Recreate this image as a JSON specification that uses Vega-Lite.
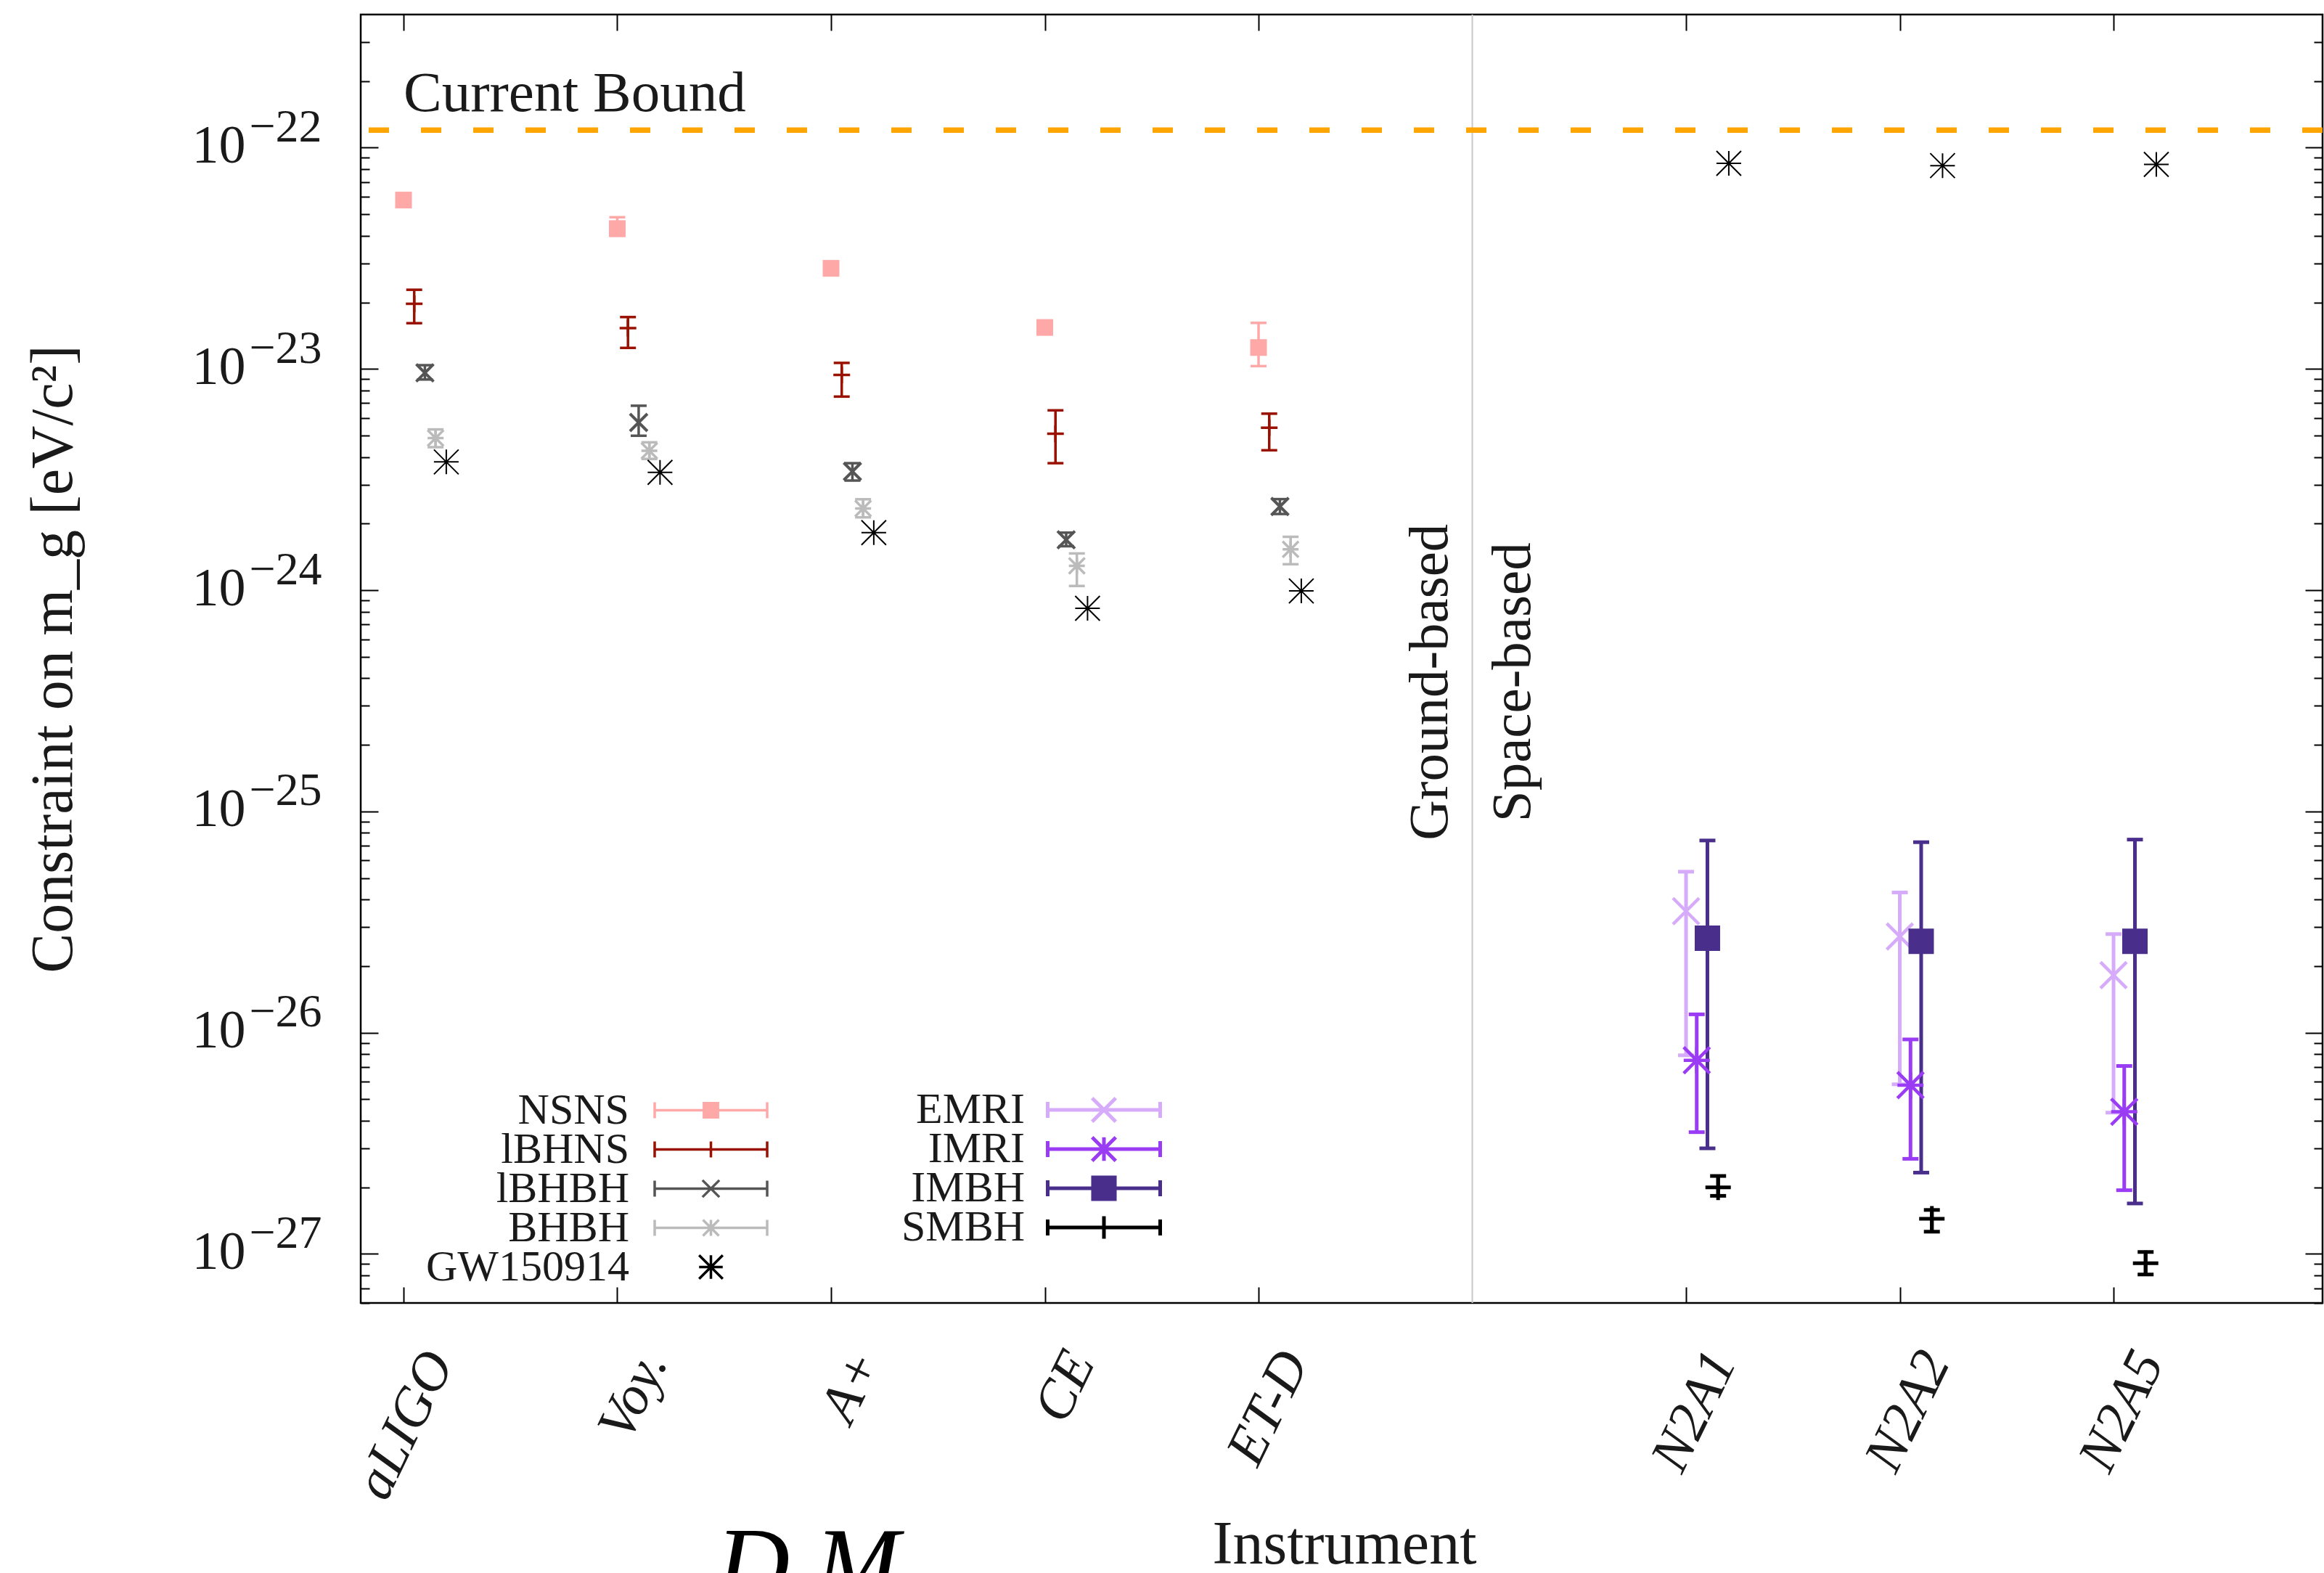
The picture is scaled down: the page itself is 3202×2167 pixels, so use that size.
{
  "$schema": "https://vega.github.io/schema/vega-lite/v6.json",
  "width": 2703,
  "height": 1775,
  "autosize": {"type": "none"},
  "padding": {"left": 497, "top": 20, "right": 2, "bottom": 372},
  "background": "white",
  "title": {"text": "D M", "orient": "bottom", "anchor": "start", "frame": "group", "dx": 490, "offset": -80, "baseline": "top", "fontSize": 140, "font": "Liberation Serif", "fontStyle": "italic", "fontWeight": "normal", "color": "#000000"},
  "config": {
    "view": {"stroke": "#000000", "strokeWidth": 2.5},
    "axis": {"grid": false, "domain": false, "tickColor": "#000000", "tickWidth": 2, "labelColor": "#1a1a1a", "titleColor": "#1a1a1a", "labelFont": "Liberation Serif", "titleFont": "Liberation Serif", "titleFontWeight": "normal"},
    "text": {"font": "Liberation Serif", "color": "#1a1a1a"}
  },
  "datasets": {
    "ground": [
      {"inst": "aLIGO", "src": "NSNS", "v": 5.8e-23},
      {"inst": "aLIGO", "src": "lBHNS", "v": 1.97e-23, "lo": 1.61e-23, "hi": 2.28e-23},
      {"inst": "aLIGO", "src": "lBHBH", "v": 9.6e-24, "lo": 8.96e-24, "hi": 1.04e-23},
      {"inst": "aLIGO", "src": "BHBH", "v": 4.87e-24, "lo": 4.43e-24, "hi": 5.33e-24},
      {"inst": "aLIGO", "src": "GW150914", "v": 3.8e-24},
      {"inst": "Voy.", "src": "NSNS", "v": 4.31e-23, "lo": 4.0e-23, "hi": 4.85e-23},
      {"inst": "Voy.", "src": "lBHNS", "v": 1.53e-23, "lo": 1.245e-23, "hi": 1.716e-23},
      {"inst": "Voy.", "src": "lBHBH", "v": 5.73e-24, "lo": 4.99e-24, "hi": 6.82e-24},
      {"inst": "Voy.", "src": "BHBH", "v": 4.27e-24, "lo": 3.92e-24, "hi": 4.66e-24},
      {"inst": "Voy.", "src": "GW150914", "v": 3.41e-24},
      {"inst": "A+", "src": "NSNS", "v": 2.85e-23},
      {"inst": "A+", "src": "lBHNS", "v": 9.4e-24, "lo": 7.5e-24, "hi": 1.065e-23},
      {"inst": "A+", "src": "lBHBH", "v": 3.44e-24, "lo": 3.13e-24, "hi": 3.75e-24},
      {"inst": "A+", "src": "BHBH", "v": 2.34e-24, "lo": 2.135e-24, "hi": 2.576e-24},
      {"inst": "A+", "src": "GW150914", "v": 1.82e-24},
      {"inst": "CE", "src": "NSNS", "v": 1.54e-23},
      {"inst": "CE", "src": "lBHNS", "v": 5.1e-24, "lo": 3.75e-24, "hi": 6.5e-24},
      {"inst": "CE", "src": "lBHBH", "v": 1.69e-24, "lo": 1.58e-24, "hi": 1.82e-24},
      {"inst": "CE", "src": "BHBH", "v": 1.288e-24, "lo": 1.045e-24, "hi": 1.466e-24},
      {"inst": "CE", "src": "GW150914", "v": 8.28e-25},
      {"inst": "ET-D", "src": "NSNS", "v": 1.25e-23, "lo": 1.03e-23, "hi": 1.615e-23},
      {"inst": "ET-D", "src": "lBHNS", "v": 5.42e-24, "lo": 4.29e-24, "hi": 6.28e-24},
      {"inst": "ET-D", "src": "lBHBH", "v": 2.39e-24, "lo": 2.21e-24, "hi": 2.58e-24},
      {"inst": "ET-D", "src": "BHBH", "v": 1.53e-24, "lo": 1.31e-24, "hi": 1.743e-24},
      {"inst": "ET-D", "src": "GW150914", "v": 9.92e-25}
    ],
    "space": [
      {"inst": "N2A1", "src": "EMRI", "v": 3.54e-26, "lo": 7.9e-27, "hi": 5.34e-26},
      {"inst": "N2A1", "src": "IMRI", "v": 7.5e-27, "lo": 3.55e-27, "hi": 1.21e-26},
      {"inst": "N2A1", "src": "IMBH", "v": 2.67e-26, "lo": 3.0e-27, "hi": 7.39e-26},
      {"inst": "N2A1", "src": "SMBH", "v": 2.0e-27, "lo": 1.83e-27, "hi": 2.25e-27},
      {"inst": "N2A1", "src": "GW150914", "v": 8.5e-23},
      {"inst": "N2A2", "src": "EMRI", "v": 2.72e-26, "lo": 5.84e-27, "hi": 4.3e-26},
      {"inst": "N2A2", "src": "IMRI", "v": 5.79e-27, "lo": 2.69e-27, "hi": 9.32e-27},
      {"inst": "N2A2", "src": "IMBH", "v": 2.59e-26, "lo": 2.33e-27, "hi": 7.26e-26},
      {"inst": "N2A2", "src": "SMBH", "v": 1.44e-27, "lo": 1.26e-27, "hi": 1.58e-27},
      {"inst": "N2A2", "src": "GW150914", "v": 8.3e-23},
      {"inst": "N2A5", "src": "EMRI", "v": 1.82e-26, "lo": 4.35e-27, "hi": 2.79e-26},
      {"inst": "N2A5", "src": "IMRI", "v": 4.39e-27, "lo": 1.94e-27, "hi": 7.07e-27},
      {"inst": "N2A5", "src": "IMBH", "v": 2.59e-26, "lo": 1.69e-27, "hi": 7.46e-26},
      {"inst": "N2A5", "src": "SMBH", "v": 9.07e-28, "lo": 8.07e-28, "hi": 1.02e-27},
      {"inst": "N2A5", "src": "GW150914", "v": 8.4e-23}
    ]
  },
  "layer": [
    {
      "data": {"values": [{}]},
      "mark": {"type": "rule", "color": "#c8c8c8", "strokeWidth": 2},
      "encoding": {
        "x": {"datum": "gap", "type": "nominal", "axis": null, "scale": {"type": "point", "domain": ["aLIGO", "Voy.", "A+", "CE", "ET-D", "gap", "N2A1", "N2A2", "N2A5"], "padding": 0.589, "align": 0.17}}
      }
    },
    {
      "data": {"values": [{}]},
      "mark": {"type": "rule", "color": "#FFA500", "strokeWidth": 7.5, "strokeDash": [28, 44]},
      "encoding": {
        "y": {"datum": 1.2e-22, "type": "quantitative", "axis": null, "scale": {"type": "log", "domain": [6e-28, 4e-22], "nice": false}}
      }
    },
    {
      "data": {"values": [{}]},
      "mark": {"type": "text", "text": "Current Bound", "align": "left", "baseline": "alphabetic", "dy": -26, "fontSize": 79},
      "encoding": {
        "x": {"datum": "aLIGO", "type": "nominal", "axis": null, "scale": {"type": "point", "domain": ["aLIGO", "Voy.", "A+", "CE", "ET-D", "gap", "N2A1", "N2A2", "N2A5"], "padding": 0.589, "align": 0.17}},
        "y": {"datum": 1.2e-22, "type": "quantitative", "axis": null, "scale": {"type": "log", "domain": [6e-28, 4e-22], "nice": false}}
      }
    },
    {
      "data": {"values": [{}]},
      "mark": {"type": "text", "text": "Ground-based", "angle": 270, "align": "center", "baseline": "alphabetic", "dy": -35, "fontSize": 77},
      "encoding": {
        "x": {"datum": "gap", "type": "nominal", "axis": null, "scale": {"type": "point", "domain": ["aLIGO", "Voy.", "A+", "CE", "ET-D", "gap", "N2A1", "N2A2", "N2A5"], "padding": 0.589, "align": 0.17}},
        "y": {"datum": 3.84e-25, "type": "quantitative", "axis": null, "scale": {"type": "log", "domain": [6e-28, 4e-22], "nice": false}}
      }
    },
    {
      "data": {"values": [{}]},
      "mark": {"type": "text", "text": "Space-based", "angle": 270, "align": "center", "baseline": "top", "dy": 18, "fontSize": 77},
      "encoding": {
        "x": {"datum": "gap", "type": "nominal", "axis": null, "scale": {"type": "point", "domain": ["aLIGO", "Voy.", "A+", "CE", "ET-D", "gap", "N2A1", "N2A2", "N2A5"], "padding": 0.589, "align": 0.17}},
        "y": {"datum": 3.84e-25, "type": "quantitative", "axis": null, "scale": {"type": "log", "domain": [6e-28, 4e-22], "nice": false}}
      }
    },
    {
      "data": {"name": "ground"},
      "transform": [{"filter": "isValid(datum.lo)"}],
      "mark": {"type": "rule", "strokeWidth": 3.5},
      "encoding": {
        "x": {"field": "inst", "type": "nominal", "axis": null, "scale": {"type": "point", "domain": ["aLIGO", "Voy.", "A+", "CE", "ET-D", "gap", "N2A1", "N2A2", "N2A5"], "padding": 0.589, "align": 0.17}},
        "xOffset": {"field": "src", "type": "nominal", "scale": {"type": "point", "domain": ["NSNS", "lBHNS", "lBHBH", "BHBH", "GW150914"], "range": [0, 58.9], "padding": 0}},
        "y": {"field": "lo", "type": "quantitative", "scale": {"type": "log", "domain": [6e-28, 4e-22], "nice": false},
          "axis": {"orient": "left", "values": [1e-27, 1e-26, 1e-25, 1e-24, 1e-23, 1e-22],
            "labelExpr": "'−' + (-round(log(datum.value)/LN10))",
            "ticks": false, "labelFontSize": 64, "labelPadding": 54, "labelOffset": -9, "labelBaseline": "alphabetic", "labelAlign": "right", "labelOverlap": false, "labelLimit": 0, "labelBound": false, "labelFlush": false, "title": null, "domain": false}},
        "y2": {"field": "hi"},
        "color": {"field": "src", "type": "nominal", "legend": null, "scale": {"domain": ["NSNS", "lBHNS", "lBHBH", "BHBH", "GW150914"], "range": ["#FFA8A8", "#991100", "#555555", "#BBBBBB", "#000000"]}}
      }
    },
    {
      "data": {"name": "ground"},
      "transform": [{"filter": "isValid(datum.lo)"}, {"fold": ["lo", "hi"], "as": ["end", "yv"]}],
      "mark": {"type": "tick", "orient": "horizontal", "size": 22, "thickness": 3.5, "opacity": 1},
      "encoding": {
        "x": {"field": "inst", "type": "nominal", "axis": null, "scale": {"type": "point", "domain": ["aLIGO", "Voy.", "A+", "CE", "ET-D", "gap", "N2A1", "N2A2", "N2A5"], "padding": 0.589, "align": 0.17}},
        "xOffset": {"field": "src", "type": "nominal", "scale": {"type": "point", "domain": ["NSNS", "lBHNS", "lBHBH", "BHBH", "GW150914"], "range": [0, 58.9], "padding": 0}},
        "y": {"field": "yv", "type": "quantitative", "axis": null, "scale": {"type": "log", "domain": [6e-28, 4e-22], "nice": false}},
        "color": {"field": "src", "type": "nominal", "legend": null, "scale": {"domain": ["NSNS", "lBHNS", "lBHBH", "BHBH", "GW150914"], "range": ["#FFA8A8", "#991100", "#555555", "#BBBBBB", "#000000"]}}
      }
    },
    {
      "data": {"name": "ground"},
      "mark": {"type": "point", "filled": true, "opacity": 1},
      "encoding": {
        "x": {"field": "inst", "type": "nominal", "scale": {"type": "point", "domain": ["aLIGO", "Voy.", "A+", "CE", "ET-D", "gap", "N2A1", "N2A2", "N2A5"], "padding": 0.589, "align": 0.17},
          "axis": {"orient": "bottom", "values": ["aLIGO", "Voy.", "A+", "CE", "ET-D", "N2A1", "N2A2", "N2A5"], "title": "Instrument", "titleFontSize": 84, "titleX": 1355, "titleY": 358, "titleBaseline": "alphabetic", "titleAlign": "center", "labelAngle": -64, "labelAlign": "right", "labelBaseline": "middle", "labelFontSize": 76, "labelFontStyle": "italic", "labelPadding": 93, "labelOffset": 49, "labelOverlap": false, "labelLimit": 0, "labelBound": false, "labelFlush": false, "tickSize": -22, "domain": false}},
        "xOffset": {"field": "src", "type": "nominal", "scale": {"type": "point", "domain": ["NSNS", "lBHNS", "lBHBH", "BHBH", "GW150914"], "range": [0, 58.9], "padding": 0}},
        "y": {"field": "v", "type": "quantitative", "scale": {"type": "log", "domain": [6e-28, 4e-22], "nice": false},
          "axis": {"orient": "left", "values": [6e-28, 7e-28, 8e-28, 9e-28, 1e-27, 2e-27, 3e-27, 4e-27, 5e-27, 6e-27, 7e-27, 8e-27, 9e-27, 1e-26, 2e-26, 3e-26, 4e-26, 5e-26, 6e-26, 7e-26, 8e-26, 9e-26, 1e-25, 2e-25, 3e-25, 4e-25, 5e-25, 6e-25, 7e-25, 8e-25, 9e-25, 1e-24, 2e-24, 3e-24, 4e-24, 5e-24, 6e-24, 7e-24, 8e-24, 9e-24, 1e-23, 2e-23, 3e-23, 4e-23, 5e-23, 6e-23, 7e-23, 8e-23, 9e-23, 1e-22, 2e-22, 3e-22],
            "labelExpr": "abs(log(datum.value)/LN10 - round(log(datum.value)/LN10)) < 0.01 ? '10' : ''",
            "labelFontSize": 74, "labelPadding": 183, "labelOffset": 20, "labelBaseline": "alphabetic", "labelAlign": "right", "labelOverlap": false, "labelLimit": 0, "labelBound": false, "labelFlush": false,
            "tickSize": {"condition": {"test": "abs(log(datum.value)/LN10 - round(log(datum.value)/LN10)) < 0.01", "value": -24}, "value": -12},
            "title": "Constraint on m_g [eV/c²]", "titleFontSize": 82, "titleAngle": 270, "titleX": -399, "titleY": 887.5, "titleBaseline": "alphabetic", "titleAlign": "center", "domain": false}},
        "shape": {"field": "src", "type": "nominal", "legend": null, "scale": {"domain": ["NSNS", "lBHNS", "lBHBH", "BHBH", "GW150914"], "range": ["square", "M-1,0H1M0,-1V1", "M-1,-1L1,1M-1,1L1,-1", "M-1,0H1M0,-1V1M-1,-1L1,1M-1,1L1,-1", "M-1,0H1M0,-1V1M-1,-1L1,1M-1,1L1,-1"]}},
        "fill": {"field": "src", "type": "nominal", "legend": null, "scale": {"domain": ["NSNS", "lBHNS", "lBHBH", "BHBH", "GW150914"], "range": ["#FFA8A8", "#991100", "#555555", "#BBBBBB", "#000000"]}},
        "stroke": {"field": "src", "type": "nominal", "legend": null, "scale": {"domain": ["NSNS", "lBHNS", "lBHBH", "BHBH", "GW150914"], "range": ["#FFA8A8", "#991100", "#555555", "#BBBBBB", "#000000"]}},
        "size": {"field": "src", "type": "nominal", "legend": null, "scale": {"type": "ordinal", "domain": ["NSNS", "lBHNS", "lBHBH", "BHBH", "GW150914"], "range": [529, 529, 576, 484, 1156]}},
        "strokeWidth": {"field": "src", "type": "nominal", "legend": null, "scale": {"type": "ordinal", "domain": ["NSNS", "lBHNS", "lBHBH", "BHBH", "GW150914"], "range": [0, 3.5, 4, 3.5, 2]}}
      }
    },
    {
      "data": {"name": "space"},
      "transform": [{"filter": "isValid(datum.lo)"}],
      "mark": {"type": "rule", "strokeWidth": 5},
      "encoding": {
        "x": {"field": "inst", "type": "nominal", "axis": null, "scale": {"type": "point", "domain": ["aLIGO", "Voy.", "A+", "CE", "ET-D", "gap", "N2A1", "N2A2", "N2A5"], "padding": 0.589, "align": 0.17}},
        "xOffset": {"field": "src", "type": "nominal", "scale": {"type": "point", "domain": ["EMRI", "IMRI", "IMBH", "SMBH", "GW150914"], "range": [0, 58.9], "padding": 0}},
        "y": {"field": "lo", "type": "quantitative", "axis": null, "scale": {"type": "log", "domain": [6e-28, 4e-22], "nice": false}},
        "y2": {"field": "hi"},
        "color": {"field": "src", "type": "nominal", "legend": null, "scale": {"domain": ["EMRI", "IMRI", "IMBH", "SMBH", "GW150914"], "range": ["#D6ABFA", "#9B3CF5", "#4A2E8C", "#000000", "#000000"]}}
      }
    },
    {
      "data": {"name": "space"},
      "transform": [{"filter": "isValid(datum.lo)"}, {"fold": ["lo", "hi"], "as": ["end", "yv"]}],
      "mark": {"type": "tick", "orient": "horizontal", "size": 22, "thickness": 5, "opacity": 1},
      "encoding": {
        "x": {"field": "inst", "type": "nominal", "axis": null, "scale": {"type": "point", "domain": ["aLIGO", "Voy.", "A+", "CE", "ET-D", "gap", "N2A1", "N2A2", "N2A5"], "padding": 0.589, "align": 0.17}},
        "xOffset": {"field": "src", "type": "nominal", "scale": {"type": "point", "domain": ["EMRI", "IMRI", "IMBH", "SMBH", "GW150914"], "range": [0, 58.9], "padding": 0}},
        "y": {"field": "yv", "type": "quantitative", "axis": null, "scale": {"type": "log", "domain": [6e-28, 4e-22], "nice": false}},
        "color": {"field": "src", "type": "nominal", "legend": null, "scale": {"domain": ["EMRI", "IMRI", "IMBH", "SMBH", "GW150914"], "range": ["#D6ABFA", "#9B3CF5", "#4A2E8C", "#000000", "#000000"]}}
      }
    },
    {
      "data": {"name": "space"},
      "mark": {"type": "point", "filled": true, "opacity": 1},
      "encoding": {
        "x": {"field": "inst", "type": "nominal", "scale": {"type": "point", "domain": ["aLIGO", "Voy.", "A+", "CE", "ET-D", "gap", "N2A1", "N2A2", "N2A5"], "padding": 0.589, "align": 0.17},
          "axis": {"orient": "top", "values": ["aLIGO", "Voy.", "A+", "CE", "ET-D", "N2A1", "N2A2", "N2A5"], "labels": false, "title": null, "tickSize": -22, "domain": false}},
        "xOffset": {"field": "src", "type": "nominal", "scale": {"type": "point", "domain": ["EMRI", "IMRI", "IMBH", "SMBH", "GW150914"], "range": [0, 58.9], "padding": 0}},
        "y": {"field": "v", "type": "quantitative", "scale": {"type": "log", "domain": [6e-28, 4e-22], "nice": false},
          "axis": {"orient": "right", "values": [6e-28, 7e-28, 8e-28, 9e-28, 1e-27, 2e-27, 3e-27, 4e-27, 5e-27, 6e-27, 7e-27, 8e-27, 9e-27, 1e-26, 2e-26, 3e-26, 4e-26, 5e-26, 6e-26, 7e-26, 8e-26, 9e-26, 1e-25, 2e-25, 3e-25, 4e-25, 5e-25, 6e-25, 7e-25, 8e-25, 9e-25, 1e-24, 2e-24, 3e-24, 4e-24, 5e-24, 6e-24, 7e-24, 8e-24, 9e-24, 1e-23, 2e-23, 3e-23, 4e-23, 5e-23, 6e-23, 7e-23, 8e-23, 9e-23, 1e-22, 2e-22, 3e-22],
            "labels": false, "title": null, "domain": false,
            "tickSize": {"condition": {"test": "abs(log(datum.value)/LN10 - round(log(datum.value)/LN10)) < 0.01", "value": -24}, "value": -12}}},
        "shape": {"field": "src", "type": "nominal", "legend": null, "scale": {"domain": ["EMRI", "IMRI", "IMBH", "SMBH", "GW150914"], "range": ["M-1,-1L1,1M-1,1L1,-1", "M-1,0H1M0,-1V1M-1,-1L1,1M-1,1L1,-1", "square", "M-1,0H1M0,-1V1", "M-1,0H1M0,-1V1M-1,-1L1,1M-1,1L1,-1"]}},
        "fill": {"field": "src", "type": "nominal", "legend": null, "scale": {"domain": ["EMRI", "IMRI", "IMBH", "SMBH", "GW150914"], "range": ["#D6ABFA", "#9B3CF5", "#4A2E8C", "#000000", "#000000"]}},
        "stroke": {"field": "src", "type": "nominal", "legend": null, "scale": {"domain": ["EMRI", "IMRI", "IMBH", "SMBH", "GW150914"], "range": ["#D6ABFA", "#9B3CF5", "#4A2E8C", "#000000", "#000000"]}},
        "size": {"field": "src", "type": "nominal", "legend": null, "scale": {"type": "ordinal", "domain": ["EMRI", "IMRI", "IMBH", "SMBH", "GW150914"], "range": [1296, 1296, 1225, 1225, 1156]}},
        "strokeWidth": {"field": "src", "type": "nominal", "legend": null, "scale": {"type": "ordinal", "domain": ["EMRI", "IMRI", "IMBH", "SMBH", "GW150914"], "range": [4.5, 4.5, 0, 5, 2]}}
      }
    },
    {
      "data": {"name": "ground"},
      "transform": [{"filter": "false"}],
      "mark": {"type": "point", "filled": true},
      "encoding": {
        "shape": {"field": "src", "type": "nominal",
          "scale": {"domain": ["NSNS", "lBHNS", "lBHBH", "BHBH", "GW150914"], "range": [
            "M-1,-0.142V0.142M-1,0H1M1,-0.142V0.142M-0.125,-0.125H0.125V0.125H-0.125Z",
            "M-1,-0.142V0.142M-1,0H1M1,-0.142V0.142M0,-0.142V0.142",
            "M-1,-0.142V0.142M-1,0H1M1,-0.142V0.142M-0.15,-0.15L0.15,0.15M-0.15,0.15L0.15,-0.15",
            "M-1,-0.142V0.142M-1,0H1M1,-0.142V0.142M0,-0.142V0.142M-0.142,-0.142L0.142,0.142M-0.142,0.142L0.142,-0.142",
            "M-0.21,0H0.21M0,-0.21V0.21M-0.21,-0.21L0.21,0.21M-0.21,0.21L0.21,-0.21"]},
          "legend": {"orient": "none", "legendX": 403, "legendY": 1430, "direction": "vertical", "gridAlign": "none", "title": null, "padding": 0, "symbolSize": 24025, "symbolStrokeWidth": 3.5, "symbolFillColor": "#000000", "symbolStrokeColor": "#000000", "symbolOpacity": 1, "labelFont": "Liberation Serif", "labelFontSize": 60, "labelColor": "#1a1a1a", "labelAlign": "right", "labelBaseline": "middle", "labelOffset": -192, "labelLimit": 0, "rowPadding": -56}},
        "fill": {"field": "src", "type": "nominal",
          "scale": {"domain": ["NSNS", "lBHNS", "lBHBH", "BHBH", "GW150914"], "range": ["#FFA8A8", "#991100", "#555555", "#BBBBBB", "#000000"]},
          "legend": {"orient": "none", "legendX": 403, "legendY": 1430, "direction": "vertical", "gridAlign": "none", "title": null, "padding": 0, "symbolSize": 24025, "symbolStrokeWidth": 3.5, "symbolFillColor": "#000000", "symbolStrokeColor": "#000000", "symbolOpacity": 1, "labelFont": "Liberation Serif", "labelFontSize": 60, "labelColor": "#1a1a1a", "labelAlign": "right", "labelBaseline": "middle", "labelOffset": -192, "labelLimit": 0, "rowPadding": -56}},
        "stroke": {"field": "src", "type": "nominal",
          "scale": {"domain": ["NSNS", "lBHNS", "lBHBH", "BHBH", "GW150914"], "range": ["#FFA8A8", "#991100", "#555555", "#BBBBBB", "#000000"]},
          "legend": {"orient": "none", "legendX": 403, "legendY": 1430, "direction": "vertical", "gridAlign": "none", "title": null, "padding": 0, "symbolSize": 24025, "symbolStrokeWidth": 3.5, "symbolFillColor": "#000000", "symbolStrokeColor": "#000000", "symbolOpacity": 1, "labelFont": "Liberation Serif", "labelFontSize": 60, "labelColor": "#1a1a1a", "labelAlign": "right", "labelBaseline": "middle", "labelOffset": -192, "labelLimit": 0, "rowPadding": -56}}
      }
    },
    {
      "data": {"name": "space"},
      "transform": [{"filter": "false"}],
      "mark": {"type": "point", "filled": true},
      "encoding": {
        "shape": {"field": "src", "type": "nominal",
          "scale": {"domain": ["EMRI", "IMRI", "IMBH", "SMBH"], "range": [
            "M-1,-0.142V0.142M-1,0H1M1,-0.142V0.142M-0.21,-0.21L0.21,0.21M-0.21,0.21L0.21,-0.21",
            "M-1,-0.142V0.142M-1,0H1M1,-0.142V0.142M0,-0.21V0.21M-0.21,-0.21L0.21,0.21M-0.21,0.21L0.21,-0.21",
            "M-1,-0.142V0.142M-1,0H1M1,-0.142V0.142M-0.194,-0.194H0.194V0.194H-0.194Z",
            "M-1,-0.142V0.142M-1,0H1M1,-0.142V0.142M0,-0.2V0.2"]},
          "legend": {"orient": "none", "legendX": 944, "legendY": 1429, "direction": "vertical", "gridAlign": "none", "title": null, "padding": 0, "symbolSize": 24025, "symbolStrokeWidth": 5, "symbolFillColor": "#000000", "symbolStrokeColor": "#000000", "symbolOpacity": 1, "labelFont": "Liberation Serif", "labelFontSize": 60, "labelColor": "#1a1a1a", "labelAlign": "right", "labelBaseline": "middle", "labelOffset": -189, "labelLimit": 0, "rowPadding": -56}},
        "fill": {"field": "src", "type": "nominal",
          "scale": {"domain": ["EMRI", "IMRI", "IMBH", "SMBH"], "range": ["#D6ABFA", "#9B3CF5", "#4A2E8C", "#000000"]},
          "legend": {"orient": "none", "legendX": 944, "legendY": 1429, "direction": "vertical", "gridAlign": "none", "title": null, "padding": 0, "symbolSize": 24025, "symbolStrokeWidth": 5, "symbolFillColor": "#000000", "symbolStrokeColor": "#000000", "symbolOpacity": 1, "labelFont": "Liberation Serif", "labelFontSize": 60, "labelColor": "#1a1a1a", "labelAlign": "right", "labelBaseline": "middle", "labelOffset": -189, "labelLimit": 0, "rowPadding": -56}},
        "stroke": {"field": "src", "type": "nominal",
          "scale": {"domain": ["EMRI", "IMRI", "IMBH", "SMBH"], "range": ["#D6ABFA", "#9B3CF5", "#4A2E8C", "#000000"]},
          "legend": {"orient": "none", "legendX": 944, "legendY": 1429, "direction": "vertical", "gridAlign": "none", "title": null, "padding": 0, "symbolSize": 24025, "symbolStrokeWidth": 5, "symbolFillColor": "#000000", "symbolStrokeColor": "#000000", "symbolOpacity": 1, "labelFont": "Liberation Serif", "labelFontSize": 60, "labelColor": "#1a1a1a", "labelAlign": "right", "labelBaseline": "middle", "labelOffset": -189, "labelLimit": 0, "rowPadding": -56}}
      }
    }
  ],
  "resolve": {
    "scale": {"color": "independent", "fill": "independent", "stroke": "independent", "shape": "independent", "size": "independent", "strokeWidth": "independent", "xOffset": "independent"},
    "axis": {"x": "independent", "y": "independent"}
  }
}
